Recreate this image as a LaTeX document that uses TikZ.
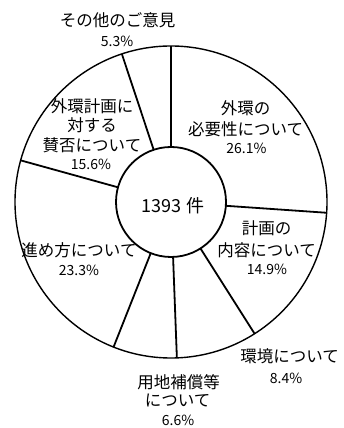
\documentclass[tikz,border=0pt]{standalone}
\usepackage{fontspec}
\setmainfont{Noto Sans CJK JP}
\usetikzlibrary{calc}
\begin{document}
\begin{tikzpicture}[x=1pt,y=1pt,
  jp/.style={font=\fontsize{16.5}{18}\selectfont, inner sep=0pt, anchor=center},
  pct/.style={font=\fontsize{14}{16}\selectfont, inner sep=0pt, anchor=center},
  sepline/.style={line width=1.8pt},
  rim/.style={line width=1.4pt}]
\useasboundingbox (0,0) rectangle (343,428);
\coordinate (c) at (171,226);
\draw[rim] (c) circle[radius=156];
\foreach \a in {90,-3.96,-57.6,-87.84,-111.6,-195.48,-251.64}
  \draw[sepline] ($(c)+(\a:55)$) -- ($(c)+(\a:156)$);
\node[circle, draw, line width=1.8pt, fill=white, minimum size=110pt, inner sep=0pt] (ctr) at (c) {};
\node[font=\fontsize{18}{20}\selectfont, inner sep=0pt] (total) at (173,222) {1393\hspace{5pt}件};
% その他
\node[jp] (o1) at (117.5,408) {その他のご意見};
\node[pct] (o2) at (117,387) {5.3\%};
% 外環計画に対する賛否
\node[jp] (s1) at (92,321.5) {外環計画に};
\node[jp] (s2) at (92,303) {対する};
\node[jp] (s3) at (92,283) {賛否について};
\node[pct] (s4) at (91,264) {15.6\%};
% 外環の必要性
\node[jp] (n1) at (245.5,319.5) {外環の};
\node[jp] (n2) at (245.5,299) {必要性について};
\node[pct] (n3) at (246.5,280) {26.1\%};
% 計画の内容
\node[jp] (k1) at (266.5,200) {計画の};
\node[jp] (k2) at (266.5,178) {内容について};
\node[pct] (k3) at (267,159) {14.9\%};
% 進め方
\node[jp] (m1) at (79,178) {進め方について};
\node[pct] (m2) at (79,158) {23.3\%};
% 環境
\node[jp] (e1) at (289.5,72) {環境について};
\node[pct] (e2) at (286,50) {8.4\%};
% 用地補償等
\node[jp] (y1) at (178.5,46) {用地補償等};
\node[jp] (y2) at (177.5,27.5) {について};
\node[pct] (y3) at (178,8) {6.6\%};
\end{tikzpicture}
\end{document}
